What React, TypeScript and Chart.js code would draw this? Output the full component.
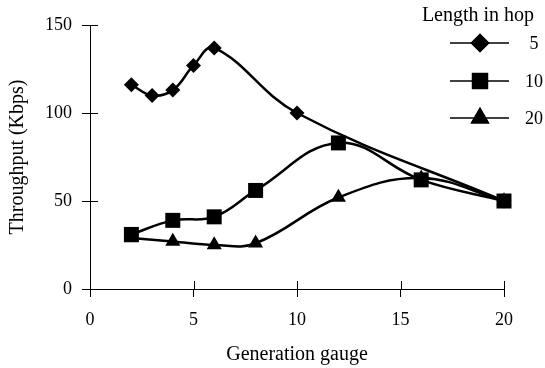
import React, { useEffect, useRef } from "react";
import { Chart, registerables } from "chart.js";
import { drawPoint } from "chart.js/helpers";

Chart.register(...registerables);

const seriesLabels = ["5", "10", "20"];
const hop5X = [2, 3, 4, 5, 6, 10, 20];
const hop5Y = [116, 110, 113, 127, 137, 100, 50];
const hop10X = [2, 4, 6, 8, 12, 16, 20];
const hop10Y = [31, 39, 41, 56, 83, 62, 50];
const hop20X = [2, 4, 6, 8, 12, 16, 20];
const hop20Y = [29, 27, 25, 26, 52, 63, 50];
const xTicks = [0, 5, 10, 15, 20];
const yTicks = [0, 50, 100, 150];

const FONT = "'Liberation Serif', 'Times New Roman', serif";

const styles = [
  { pointStyle: "rectRot", radius: 7.5, legendRadius: 9.5 },
  { pointStyle: "rect", radius: 10.6, legendRadius: 11.5 },
  { pointStyle: "triangle", radius: 8.7, legendRadius: 11 },
];

const toPts = (xs: number[], ys: number[]) => xs.map((x, i) => ({ x, y: ys[i] }));

const innerTicks = {
  id: "innerTicks",
  afterDraw(chart: any) {
    const ctx = chart.ctx;
    const xs = chart.scales.x;
    const ys = chart.scales.y;
    ctx.save();
    ctx.strokeStyle = "#000";
    ctx.lineWidth = 1;
    ctx.beginPath();
    for (const t of ys.ticks) {
      const py = Math.round(ys.getPixelForValue(t.value)) + 0.5;
      ctx.moveTo(ys.right, py);
      ctx.lineTo(ys.right + 8, py);
    }
    for (const t of xs.ticks) {
      const px = Math.round(xs.getPixelForValue(t.value)) + 0.5;
      ctx.moveTo(px, xs.top);
      ctx.lineTo(px, xs.top - 8);
    }
    ctx.stroke();
    ctx.restore();
  },
};

const customLegend = {
  id: "customLegend",
  afterDraw(chart: any) {
    const ctx = chart.ctx;
    ctx.save();
    ctx.fillStyle = "#000";
    ctx.font = `20px ${FONT}`;
    ctx.textAlign = "center";
    ctx.textBaseline = "middle";
    ctx.fillText("Length in hop", 478, 16);
    const rows = [43, 81, 118];
    chart.data.datasets.forEach((ds: any, i: number) => {
      const y = rows[i];
      ctx.strokeStyle = "#000";
      ctx.lineWidth = 1.5;
      ctx.beginPath();
      ctx.moveTo(450, y);
      ctx.lineTo(509, y);
      ctx.stroke();
      ctx.fillStyle = "#000";
      drawPoint(ctx, { pointStyle: styles[i].pointStyle, radius: styles[i].legendRadius, rotation: 0, borderWidth: 0 } as any, 480, y);
      ctx.fill();
      ctx.font = `18px ${FONT}`;
      ctx.textAlign = "center";
      ctx.fillText(ds.label, 534, y + 1);
    });
    ctx.restore();
  },
};

export default function App() {
  const ref = useRef<HTMLCanvasElement | null>(null);
  useEffect(() => {
    document.body.style.margin = "0";
    const canvas = ref.current;
    if (!canvas) return;
    const data = [toPts(hop5X, hop5Y), toPts(hop10X, hop10Y), toPts(hop20X, hop20Y)];
    const chart = new Chart(canvas, {
      type: "line",
      data: {
        datasets: data.map((d, i) => ({
          label: seriesLabels[i],
          data: d,
          borderColor: "#000",
          backgroundColor: "#000",
          borderWidth: 2.5,
          pointStyle: styles[i].pointStyle as any,
          pointRadius: styles[i].radius,
          pointBorderWidth: 0,
          pointBackgroundColor: "#000",
          tension: 0.4,
          clip: false as any,
        })),
      },
      options: {
        animation: false,
        responsive: false,
        events: [],
        layout: { padding: { top: 25, right: 41, bottom: 0, left: 0 } },
        plugins: { legend: { display: false }, tooltip: { enabled: false } },
        scales: {
          x: {
            type: "linear",
            min: 0,
            max: 20,
            afterFit: (s: any) => { s.height = 79; },
            afterBuildTicks: (s: any) => { s.ticks = xTicks.map((v) => ({ value: v })); },
            grid: { drawOnChartArea: false, drawTicks: true, tickLength: 8, color: "#000" },
            border: { display: true, color: "#000", width: 1 },
            ticks: { color: "#000", font: { family: FONT, size: 18 }, padding: 12, maxRotation: 0 },
            title: { display: true, text: "Generation gauge", color: "#000", font: { family: FONT, size: 20 }, padding: { top: 0, bottom: 1 } },
          },
          y: {
            type: "linear",
            min: 0,
            max: 150,
            afterFit: (s: any) => { s.width = 90; },
            afterBuildTicks: (s: any) => { s.ticks = yTicks.map((v) => ({ value: v })); },
            grid: { drawOnChartArea: false, drawTicks: true, tickLength: 8, color: "#000" },
            border: { display: true, color: "#000", width: 1 },
            ticks: { color: "#000", font: { family: FONT, size: 18 }, padding: 10 },
            title: { display: true, text: "Throughput (Kbps)", color: "#000", font: { family: FONT, size: 20 }, padding: { top: 6, bottom: 0 } },
          },
        },
      },
      plugins: [innerTicks, customLegend],
    });
    return () => chart.destroy();
  }, []);
  return (
    <div style={{ width: 545, height: 368 }}>
      <canvas ref={ref} width={545} height={368} />
    </div>
  );
}
